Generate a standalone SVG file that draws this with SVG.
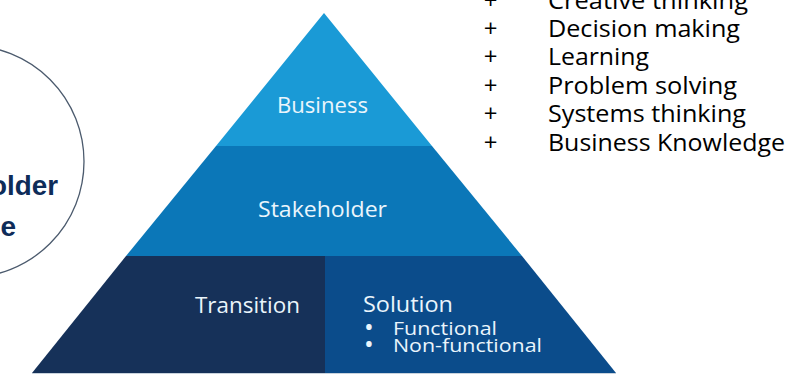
<svg xmlns="http://www.w3.org/2000/svg" width="794" height="375" viewBox="0 0 794 375">
<style>
.tier-label{font-family:"Open Sans","Noto Sans","Liberation Sans",sans-serif;fill:#eaf5fc;}
.list{font-family:"Open Sans","Noto Sans","Liberation Sans",sans-serif;font-size:24px;fill:#000;}
.circ{font-family:"Liberation Sans",Arial,sans-serif;font-weight:bold;font-size:28px;fill:#0e2c59;}
</style>
<rect width="794" height="375" fill="#ffffff"/>
<g id="circle-node">
<circle cx="-32" cy="161.5" r="116" fill="#ffffff" stroke="#4b5a6d" stroke-width="1.3"/>
<text class="circ" x="-10" y="195" textLength="68" lengthAdjust="spacingAndGlyphs">older</text>
<text class="circ" x="16" y="236" text-anchor="end">e</text>
</g>
<g id="tier-business">
<polygon points="324,13 432,146 216,146" fill="#1a9ad6"/>
<text class="tier-label" x="322.5" y="113" font-size="22.5" text-anchor="middle" textLength="91" lengthAdjust="spacingAndGlyphs">Business</text>
</g>
<g id="tier-stakeholder">
<polygon points="216,146 432,146 522,256 126,256" fill="#0b77b8"/>
<text class="tier-label" x="322.5" y="217" font-size="22.5" text-anchor="middle" textLength="129" lengthAdjust="spacingAndGlyphs">Stakeholder</text>
</g>
<g id="tier-transition">
<polygon points="126,256 325,256 325,373 32,373" fill="#163159"/>
<text class="tier-label" x="247.5" y="313" font-size="22.5" text-anchor="middle" textLength="105" lengthAdjust="spacingAndGlyphs">Transition</text>
</g>
<g id="tier-solution">
<polygon points="325,256 522,256 616,373 325,373" fill="#0b4c8b"/>
<text class="tier-label" x="363" y="312" font-size="22.5" textLength="90" lengthAdjust="spacingAndGlyphs">Solution</text>
<text class="tier-label" x="364" y="336" font-size="26">•</text>
<text class="tier-label" x="393" y="335" font-size="19" textLength="104" lengthAdjust="spacingAndGlyphs">Functional</text>
<text class="tier-label" x="364" y="353" font-size="26">•</text>
<text class="tier-label" x="393" y="352" font-size="19" textLength="149" lengthAdjust="spacingAndGlyphs">Non-functional</text>
</g>
<line x1="32" y1="373.5" x2="616" y2="373.5" stroke="#c9d3dd" stroke-width="1"/>
<g id="skills-list">
<g class="list" text-anchor="middle">
<text x="490.5" y="8.5">+</text>
<text x="490.5" y="37">+</text>
<text x="490.5" y="65">+</text>
<text x="490.5" y="93.5">+</text>
<text x="490.5" y="122">+</text>
<text x="490.5" y="151">+</text>
</g>
<g class="list">
<text x="548" y="8.5" textLength="200" lengthAdjust="spacingAndGlyphs">Creative thinking</text>
<text x="548" y="37" textLength="192" lengthAdjust="spacingAndGlyphs">Decision making</text>
<text x="548" y="65" textLength="101" lengthAdjust="spacingAndGlyphs">Learning</text>
<text x="548" y="93.5" textLength="189" lengthAdjust="spacingAndGlyphs">Problem solving</text>
<text x="548" y="122" textLength="198" lengthAdjust="spacingAndGlyphs">Systems thinking</text>
<text x="548" y="151" textLength="237" lengthAdjust="spacingAndGlyphs">Business Knowledge</text>
</g>
</g>
<g id="connectors"/>
</svg>
